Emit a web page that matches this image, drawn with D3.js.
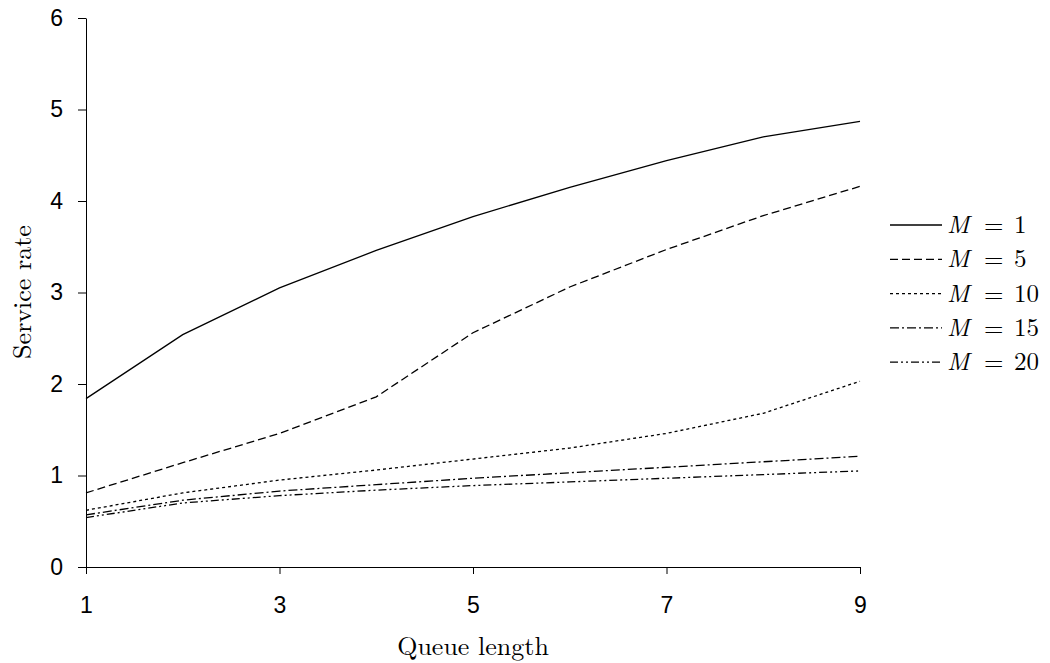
<!DOCTYPE html>
<html><head><meta charset="utf-8">
<script src="https://cdn.jsdelivr.net/npm/d3@7"></script>
<style>body{margin:0;background:#fff;} svg{display:block;}</style>
</head><body>
<svg id="chart" width="1050" height="663"></svg>
<script>
const queueLength = [1,2,3,4,5,6,7,8,9];
const mLabels = ["1","5","10","15","20"];
const m1  = [1.84,2.54,3.05,3.46,3.83,4.15,4.44,4.70,4.87];
const m5  = [0.81,1.14,1.46,1.86,2.56,3.06,3.47,3.84,4.16];
const m10 = [0.62,0.81,0.95,1.06,1.18,1.30,1.46,1.68,2.03];
const m15 = [0.57,0.73,0.83,0.90,0.97,1.03,1.09,1.15,1.21];
const m20 = [0.54,0.70,0.78,0.84,0.89,0.93,0.97,1.01,1.05];
const xTicks = [1,3,5,7,9];
const yTicks = [0,1,2,3,4,5,6];
const series = [m1,m5,m10,m15,m20];
const dashes = [null,"8,4","3,3","9,3,2,3","8,3,2,3,2,3"];

const svg = d3.select("#chart");
const x = d3.scaleLinear().domain([1,9]).range([86,860]);
const y = d3.scaleLinear().domain([0,6]).range([567,18]);

const xAxis = svg.append("g").attr("transform","translate(0,567)")
  .call(d3.axisBottom(x).tickValues(xTicks).tickSizeInner(7).tickSizeOuter(0).tickPadding(23).tickFormat(d3.format("d")));
const yAxis = svg.append("g").attr("transform","translate(86,0)")
  .call(d3.axisLeft(y).tickValues(yTicks).tickSizeInner(8).tickSizeOuter(0).tickPadding(15).tickFormat(d3.format("d")));
[xAxis,yAxis].forEach(a=>{
  a.selectAll("path").attr("stroke","#000").attr("stroke-width",1);
  a.selectAll("line").attr("stroke","#000");
  a.selectAll("text").attr("font-family","Liberation Sans, Arial, sans-serif").attr("font-size",23).attr("fill","#000");
});

const line = d3.line().x((d,i)=>x(queueLength[i])).y(d=>y(d));
series.forEach((s,k)=>{
  svg.append("path").datum(s).attr("d",line).attr("fill","none")
    .attr("stroke","#000").attr("stroke-width",1.3)
    .attr("stroke-dasharray",dashes[k]);
});

// legend
const lg = svg.append("g");
const serif = "Latin Modern Roman, DejaVu Serif, Liberation Serif, serif";
mLabels.forEach((n,k)=>{
  const base = 233 + k*34.3;
  lg.append("line").attr("x1",890).attr("x2",942).attr("y1",base-8).attr("y2",base-8)
    .attr("stroke","#000").attr("stroke-width",1.3).attr("stroke-dasharray",dashes[k]);
  const t = lg.append("text").attr("y",base)
    .attr("font-family",serif).attr("font-size",25).attr("fill","#000");
  t.append("tspan").attr("x",947).attr("font-style","italic").text("M");
  t.append("tspan").attr("x",984).text("=");
  t.append("tspan").attr("x",1014).text(n);
});

svg.append("text").attr("x",473).attr("y",655).attr("text-anchor","middle")
  .attr("font-family",serif).attr("font-size",26).text("Queue length");
svg.append("text").attr("transform","translate(31,292) rotate(-90)").attr("text-anchor","middle")
  .attr("font-family",serif).attr("font-size",26).text("Service rate");
</script>
</body></html>
